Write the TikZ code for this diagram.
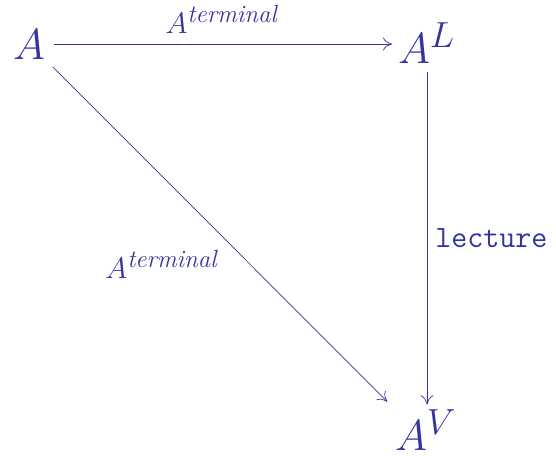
\documentclass[tikz,border=0pt]{standalone}
\usepackage{amsmath}
\usetikzlibrary{arrows.meta}
\definecolor{ink}{RGB}{52,52,160}
\begin{document}
\begin{tikzpicture}[x=1pt,y=-1pt,
  obj/.style={inner sep=0pt,outer sep=0pt,text=ink,font=\Huge,scale=1.75},
  lab/.style={inner sep=0pt,text=ink,font=\Huge,scale=1.2},
  ttlab/.style={inner sep=0pt,text=ink,font=\Huge\ttfamily,scale=1.25},
  arr/.style={draw=ink,line width=0.7pt,-{To[length=9pt,width=13pt]}}]
\useasboundingbox (0,0) rectangle (556,455);
\node[obj,anchor=base west] (a) at (13,59) {$A$};
\node[obj,anchor=base west] (l) at (398,63) {$A^{L}$};
\node[obj,anchor=base west] (v) at (395,450) {$A^{V}$};
\draw[arr,shorten <=9pt,shorten >=6pt] (a.east |- 0,44) -- (l.west |- 0,44)
  node[lab,midway,anchor=base,yshift=9pt] (t1) {$A^{\text{\itshape terminal}}$};
\draw[arr,shorten <=9pt,shorten >=5pt] (l.south -| 427,0) -- (v.north -| 427,0);
\draw[arr,shorten <=11pt,shorten >=11pt] (a.south east) -- (v.north west)
  node[lab,pos=0.5,anchor=base east,xshift=-2pt,yshift=-37pt] (t2) {$A^{\text{\itshape terminal}}$};
\node[ttlab,anchor=west] (t3) at (435,238) {lecture};
\end{tikzpicture}
\end{document}
